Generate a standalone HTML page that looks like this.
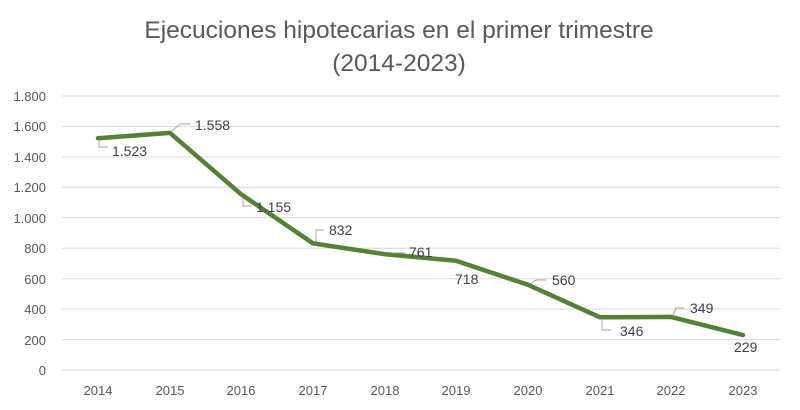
<!DOCTYPE html>
<html><head><meta charset="utf-8"><style>body{margin:0;background:#fff}svg{display:block;font-family:"Liberation Sans",sans-serif}</style></head><body>
<svg width="800" height="410" xmlns="http://www.w3.org/2000/svg">
<rect width="800" height="410" fill="#fff"/>
<text x="399" y="38" text-anchor="middle" font-size="24.5" fill="#595959">Ejecuciones hipotecarias en el primer trimestre</text>
<text x="399" y="71" text-anchor="middle" font-size="24.5" fill="#595959">(2014-2023)</text>
<g stroke="#d9d9d9" stroke-width="1">
<line x1="62" x2="780" y1="96" y2="96"/><line x1="62" x2="780" y1="126.4" y2="126.4"/><line x1="62" x2="780" y1="156.9" y2="156.9"/><line x1="62" x2="780" y1="187.3" y2="187.3"/><line x1="62" x2="780" y1="217.8" y2="217.8"/><line x1="62" x2="780" y1="248.2" y2="248.2"/><line x1="62" x2="780" y1="278.7" y2="278.7"/><line x1="62" x2="780" y1="309.1" y2="309.1"/><line x1="62" x2="780" y1="339.6" y2="339.6"/><line x1="62" x2="780" y1="370" y2="370"/>
</g>
<g font-size="13" fill="#595959" text-anchor="end">
<text x="46" y="101">1.800</text><text x="46" y="131">1.600</text><text x="46" y="162">1.400</text><text x="46" y="192">1.200</text><text x="46" y="223">1.000</text><text x="46" y="253">800</text><text x="46" y="284">600</text><text x="46" y="314">400</text><text x="46" y="345">200</text><text x="46" y="375">0</text>
</g>
<g font-size="13" fill="#595959" text-anchor="middle">
<text x="98" y="395">2014</text><text x="170" y="395">2015</text><text x="241" y="395">2016</text><text x="313" y="395">2017</text><text x="385" y="395">2018</text><text x="456" y="395">2019</text><text x="528" y="395">2020</text><text x="600" y="395">2021</text><text x="671" y="395">2022</text><text x="743" y="395">2023</text>
</g>
<g stroke="#a6a6a6" stroke-width="1" fill="none">
<polyline points="99,141 99,147 108,147"/>
<polyline points="172,131 180,124 190,124"/>
<polyline points="243,196 243,206 252,206"/>
<polyline points="316,242 316,230 324,230"/>
<polyline points="395,253 405,253"/>
<polyline points="530,284 536,280 546,280"/>
<polyline points="602,320 602,330 611,330"/>
<polyline points="673,315 676,308 684,308"/>
</g>
<polyline points="98,138.2 170,132.9 241,194.2 313,243.4 385,254.2 456,260.7 528,284.8 600,317.3 671,316.9 743,335.1" fill="none" stroke="#548235" stroke-width="4.5" stroke-linejoin="round" stroke-linecap="round"/>
<g font-size="14" fill="#404040">
<text x="112" y="156">1.523</text><text x="195" y="130">1.558</text><text x="256" y="212">1.155</text><text x="329" y="235">832</text><text x="409" y="257">761</text><text x="455" y="284">718</text><text x="552" y="285">560</text><text x="620" y="336">346</text><text x="690" y="313">349</text><text x="734" y="352">229</text>
</g>
</svg>
</body></html>
